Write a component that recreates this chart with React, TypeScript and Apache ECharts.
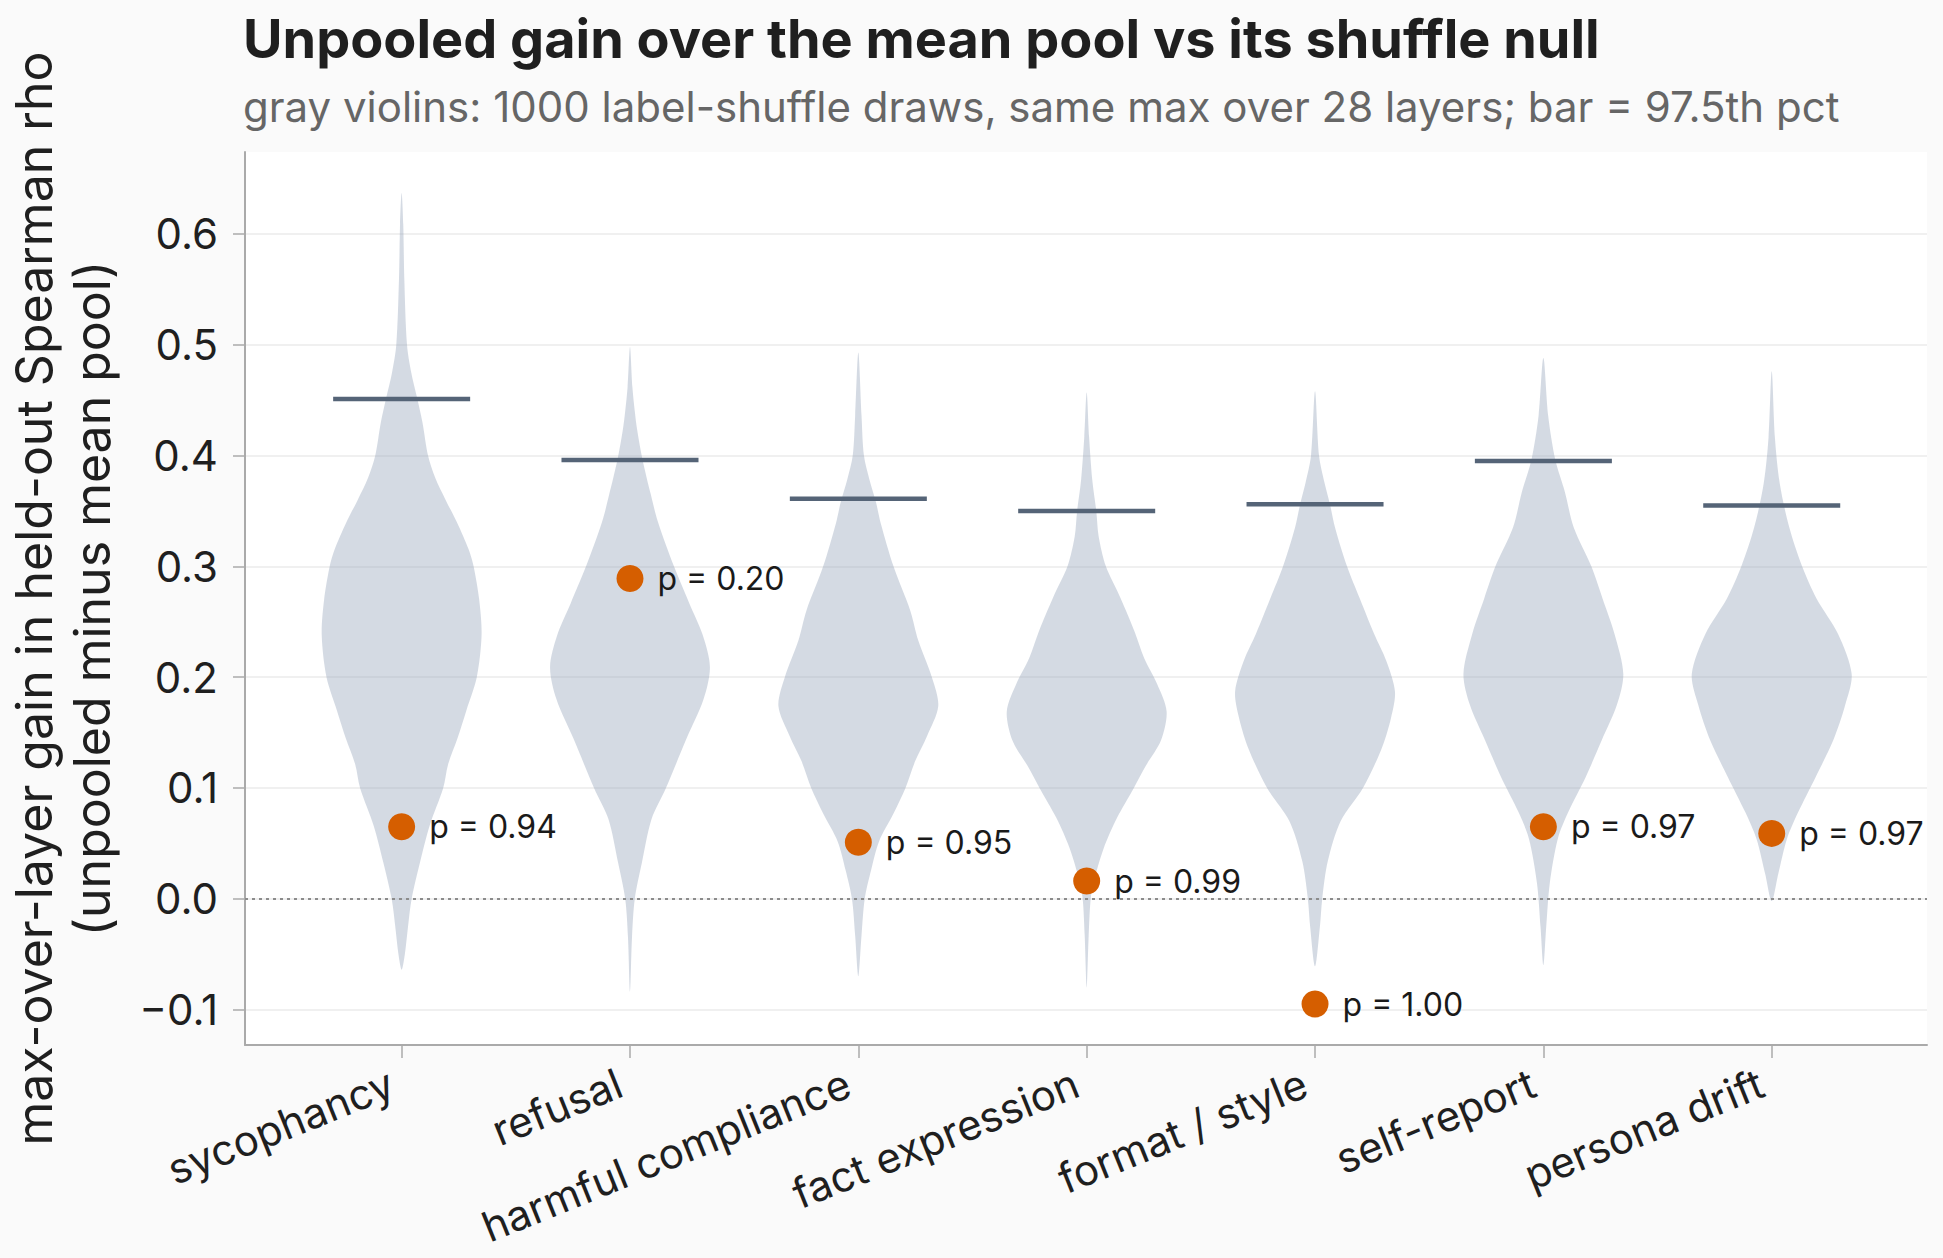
import React, { useEffect, useRef } from "react";
import * as echarts from "echarts";

const categories = [
  "sycophancy",
  "refusal",
  "harmful compliance",
  "fact expression",
  "format / style",
  "self-report",
  "persona drift",
];
const barValues = [0.451, 0.396, 0.361, 0.35, 0.356, 0.395, 0.355];
const observedValues = [0.065, 0.289, 0.051, 0.016, -0.095, 0.065, 0.059];
const pLabels = ["0.94", "0.20", "0.95", "0.99", "1.00", "0.97", "0.97"];
const yTicks = [-0.1, 0, 0.1, 0.2, 0.3, 0.4, 0.5, 0.6];
const xTicks = [0, 1, 2, 3, 4, 5, 6];

// violin outlines: [value, relative half-width (1 = widest)]
const sycophancyNull = [
  [0.637, 0], [0.609, 0.02], [0.56, 0.033], [0.5, 0.067], [0.475, 0.12], [0.453, 0.19],
  [0.43, 0.26], [0.4, 0.33], [0.38, 0.42], [0.36, 0.55], [0.34, 0.69], [0.315, 0.84],
  [0.3, 0.9], [0.27, 0.97], [0.238, 1.0], [0.2, 0.94], [0.17, 0.81], [0.145, 0.7],
  [0.121, 0.58], [0.1, 0.52], [0.066, 0.35], [0.033, 0.23], [0.0, 0.125], [-0.025, 0.08],
  [-0.05, 0.04], [-0.064, 0],
];
const refusalNull = [
  [0.498, 0], [0.462, 0.03], [0.44, 0.06], [0.423, 0.09], [0.397, 0.155], [0.365, 0.26],
  [0.34, 0.35], [0.3, 0.55], [0.267, 0.74], [0.238, 0.91], [0.209, 1.0], [0.18, 0.92],
  [0.145, 0.71], [0.1, 0.45], [0.072, 0.27], [0.033, 0.15], [0.0, 0.06], [-0.035, 0.025],
  [-0.084, 0],
];
const harmfulNull = [
  [0.493, 0], [0.436, 0.04], [0.4, 0.07], [0.378, 0.14], [0.358, 0.22], [0.339, 0.28],
  [0.3, 0.44], [0.26, 0.65], [0.233, 0.75], [0.2, 0.92], [0.174, 1.0], [0.147, 0.86],
  [0.124, 0.71], [0.1, 0.59], [0.077, 0.44], [0.052, 0.26], [0.026, 0.16], [0.0, 0.08],
  [-0.033, 0.04], [-0.07, 0],
];
const factNull = [
  [0.457, 0], [0.417, 0.03], [0.378, 0.07], [0.35, 0.12], [0.327, 0.15], [0.3, 0.24],
  [0.272, 0.42], [0.241, 0.6], [0.217, 0.72], [0.194, 0.88], [0.169, 1.0], [0.143, 0.93],
  [0.12, 0.74], [0.1, 0.59], [0.073, 0.38], [0.045, 0.21], [0.016, 0.09], [0.0, 0.05],
  [-0.033, 0.025], [-0.08, 0],
];
const formatNull = [
  [0.458, 0], [0.4, 0.05], [0.375, 0.12], [0.355, 0.19], [0.335, 0.25], [0.3, 0.4],
  [0.271, 0.56], [0.239, 0.74], [0.215, 0.89], [0.187, 1.0], [0.163, 0.95], [0.135, 0.83],
  [0.1, 0.6], [0.07, 0.32], [0.034, 0.16], [0.0, 0.09], [-0.026, 0.06], [-0.061, 0],
];
const selfReportNull = [
  [0.488, 0], [0.436, 0.06], [0.396, 0.15], [0.367, 0.27], [0.335, 0.38], [0.3, 0.6],
  [0.271, 0.74], [0.239, 0.89], [0.203, 1.0], [0.175, 0.92], [0.143, 0.73], [0.11, 0.53],
  [0.078, 0.31], [0.054, 0.18], [0.014, 0.08], [-0.026, 0.035], [-0.06, 0],
];
const personaNull = [
  [0.476, 0], [0.416, 0.04], [0.375, 0.1], [0.335, 0.22], [0.3, 0.38], [0.271, 0.56],
  [0.239, 0.83], [0.203, 1.0], [0.175, 0.92], [0.143, 0.77], [0.11, 0.55], [0.078, 0.33],
  [0.054, 0.19], [0.022, 0.08], [-0.002, 0],
];
const violinProfiles = [
  sycophancyNull, refusalNull, harmfulNull, factNull, formatNull, selfReportNull, personaNull,
];

const VIOLIN_HALF = 0.35;
const BAR_HALF = 0.3;
const FONT = "Inter, 'Noto Sans', sans-serif";

const fmtY = (v: number) => {
  const s = Math.abs(v).toFixed(1);
  return v < -1e-9 ? "\u2212" + s : s;
};

export default function App() {
  const ref = useRef<HTMLDivElement>(null);
  useEffect(() => {
    if (!ref.current) return;
    const chart = echarts.init(ref.current, null, { renderer: "svg" });
    const option: any = {
      animation: false,
      backgroundColor: "#fafafa",
      title: {
        text: "Unpooled gain over the mean pool vs its shuffle null",
        subtext: "gray violins: 1000 label-shuffle draws, same max over 28 layers; bar = 97.5th pct",
        left: 238,
        top: 6,
        itemGap: 20,
        textStyle: { fontFamily: FONT, fontSize: 54, fontWeight: "bold", color: "#1f1f1f" },
        subtextStyle: { fontFamily: FONT, fontSize: 42, color: "#666666" },
      },
      grid: {
        left: 245,
        right: 16,
        top: 152,
        bottom: 213,
        containLabel: false,
        outerBoundsMode: "none",
        show: true,
        backgroundColor: "#ffffff",
        borderWidth: 0,
      },
      xAxis: {
        type: "value",
        min: -0.686,
        max: 6.68,
        axisLine: { show: true, onZero: false, lineStyle: { color: "#aaaaaa", width: 2 } },
        axisTick: {
          show: true,
          customValues: xTicks,
          length: 13,
          lineStyle: { color: "#aaaaaa", width: 1.5 },
        },
        axisLabel: {
          customValues: xTicks,
          formatter: (v: number) => categories[Math.round(v)] ?? "",
          rotate: 22,
          margin: 32,
          padding: [0, 11, 0, 0],
          fontFamily: FONT,
          fontSize: 42,
          color: "#1f1f1f",
        },
        splitLine: { show: false },
      },
      yAxis: {
        type: "value",
        min: -0.132,
        max: 0.674,
        name: "max-over-layer gain in held-out Spearman rho\n(unpooled minus mean pool)",
        nameLocation: "middle",
        nameRotate: 90,
        nameGap: 124,
        nameTextStyle: { fontFamily: FONT, fontSize: 50, lineHeight: 58, color: "#1f1f1f" },
        axisLine: { show: true, onZero: false, lineStyle: { color: "#aaaaaa", width: 2 } },
        axisTick: {
          show: true,
          customValues: yTicks,
          length: 12,
          lineStyle: { color: "#aaaaaa", width: 1.5 },
        },
        axisLabel: {
          customValues: yTicks,
          formatter: (v: number) => fmtY(v),
          margin: 27,
          fontFamily: FONT,
          fontSize: 42,
          color: "#1f1f1f",
        },
        splitLine: { show: true, lineStyle: { color: "#ebebeb", width: 1.5 } },
      },
      series: [
        {
          type: "custom",
          name: "null",
          z: 2,
          data: violinProfiles.map((_, i) => [i, 0]),
          renderItem: (_params: any, api: any) => {
            const i = api.value(0);
            const prof = violinProfiles[i];
            const right = prof.map(([v, w]) => api.coord([i + w * VIOLIN_HALF, v]));
            const left = prof
              .slice(1, -1)
              .reverse()
              .map(([v, w]) => api.coord([i - w * VIOLIN_HALF, v]));
            return {
              type: "polygon",
              shape: { points: right.concat(left), smooth: 0.3 },
              style: { fill: "#94a3b8", opacity: 0.4 },
            };
          },
          markLine: {
            silent: true,
            symbol: "none",
            label: { show: false },
            lineStyle: { color: "#8c8c8c", width: 2.2, type: [3, 4] },
            data: [{ yAxis: 0 }],
          },
        },
        {
          type: "custom",
          name: "p97.5",
          z: 3,
          data: barValues.map((v, i) => [i, v]),
          renderItem: (_params: any, api: any) => {
            const i = api.value(0);
            const v = api.value(1);
            const a = api.coord([i - BAR_HALF, v]);
            const b = api.coord([i + BAR_HALF, v]);
            return {
              type: "line",
              shape: { x1: a[0], y1: a[1], x2: b[0], y2: b[1] },
              style: { stroke: "#556477", lineWidth: 4.5 },
            };
          },
        },
        {
          type: "scatter",
          name: "observed",
          z: 4,
          symbolSize: 27,
          itemStyle: { color: "#d55e00", opacity: 1 },
          data: observedValues.map((v, i) => [i, v]),
          label: {
            show: true,
            position: "right",
            distance: 14,
            formatter: (p: any) => "p = " + pLabels[p.dataIndex],
            fontFamily: FONT,
            fontSize: 32,
            color: "#1a1a1a",
          },
        },
      ],
    };
    chart.setOption(option);
    return () => chart.dispose();
  }, []);
  return (
    <div
      ref={ref}
      style={{ position: "fixed", left: 0, top: 0, width: 1943, height: 1258 }}
    />
  );
}
